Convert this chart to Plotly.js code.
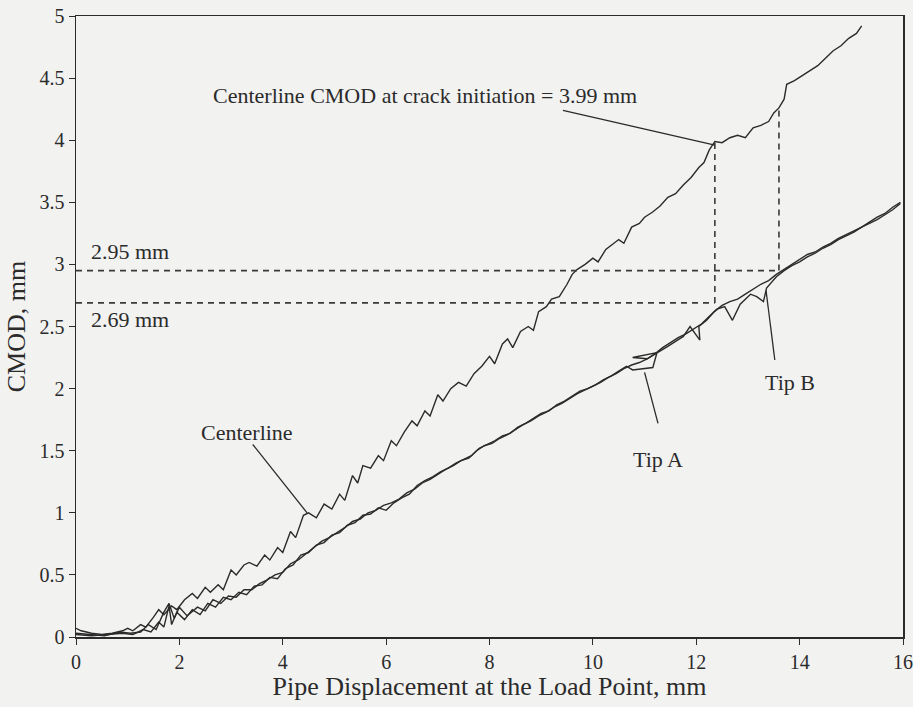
<!DOCTYPE html>
<html>
<head>
<meta charset="utf-8">
<script src="https://cdn.plot.ly/plotly-3.0.1.min.js"></script>
<style>html,body{margin:0;padding:0;background:#f2f2f1;}#chart{width:913px;height:707px;}</style>
</head>
<body>
<div id="chart"></div>
<script>
// Centerline CMOD trace
const centerX = [0.00,0.10,0.30,0.50,0.70,0.90,1.00,1.10,1.25,1.35,1.50,1.60,1.70,1.85,1.95,2.10,2.25,2.35,2.50,2.60,2.75,2.85,3.00,3.10,3.25,3.35,3.50,3.65,3.75,3.90,4.00,4.15,4.25,4.40,4.50,4.65,4.80,4.95,5.10,5.20,5.35,5.45,5.55,5.70,5.85,5.95,6.10,6.20,6.35,6.50,6.60,6.75,6.85,7.00,7.10,7.25,7.40,7.55,7.70,7.85,8.00,8.10,8.25,8.35,8.45,8.60,8.75,8.85,8.95,9.10,9.20,9.35,9.50,9.60,9.70,9.85,10.00,10.10,10.25,10.35,10.50,10.60,10.75,10.90,11.00,11.15,11.30,11.45,11.60,11.75,11.90,12.05,12.15,12.25,12.36,12.50,12.65,12.80,12.95,13.10,13.25,13.40,13.50,13.60,13.70,13.75,13.90,14.05,14.20,14.35,14.50,14.65,14.80,14.95,15.10,15.20];
const centerY = [0.07,0.05,0.03,0.02,0.03,0.05,0.07,0.05,0.10,0.08,0.16,0.22,0.18,0.25,0.22,0.30,0.35,0.31,0.40,0.36,0.42,0.38,0.54,0.50,0.58,0.60,0.57,0.66,0.62,0.72,0.68,0.85,0.80,0.98,1.00,0.96,1.07,1.03,1.15,1.10,1.30,1.24,1.38,1.36,1.46,1.42,1.58,1.54,1.65,1.74,1.70,1.82,1.78,1.95,1.90,2.00,2.05,2.02,2.12,2.18,2.26,2.20,2.36,2.40,2.33,2.46,2.50,2.47,2.62,2.66,2.72,2.74,2.84,2.92,2.96,3.00,3.05,3.02,3.12,3.15,3.20,3.17,3.30,3.33,3.38,3.42,3.47,3.54,3.57,3.64,3.70,3.78,3.82,3.92,3.99,3.98,4.02,4.04,4.02,4.10,4.12,4.15,4.22,4.26,4.33,4.45,4.48,4.52,4.56,4.60,4.66,4.72,4.76,4.82,4.86,4.92];

// Tip A CMOD trace
const tipAX = [0.00,0.30,0.60,0.90,1.10,1.30,1.45,1.60,1.70,1.80,1.85,1.95,2.10,2.25,2.40,2.55,2.70,2.85,3.00,3.15,3.30,3.45,3.60,3.75,3.90,4.05,4.20,4.35,4.50,4.65,4.80,4.95,5.10,5.25,5.40,5.55,5.70,5.85,6.00,6.15,6.30,6.45,6.60,6.75,6.90,7.05,7.20,7.35,7.50,7.65,7.80,7.95,8.10,8.25,8.40,8.55,8.70,8.85,9.00,9.15,9.30,9.45,9.60,9.75,9.90,10.05,10.20,10.35,10.50,10.65,10.77,11.16,11.24,10.77,11.05,11.30,11.45,11.60,11.75,11.88,12.07,12.05,12.20,12.35,12.50,12.65,12.80,12.95,13.10,13.25,13.40,13.55,13.70,13.85,14.00,14.15,14.30,14.45,14.60,14.75,14.90,15.05,15.20,15.35,15.50,15.65,15.80,15.95];
const tipAY = [0.02,0.01,0.02,0.03,0.02,0.06,0.04,0.12,0.08,0.25,0.10,0.20,0.14,0.22,0.18,0.27,0.24,0.32,0.30,0.36,0.34,0.41,0.42,0.48,0.47,0.55,0.58,0.66,0.68,0.74,0.76,0.82,0.84,0.90,0.92,0.98,0.99,1.04,1.02,1.08,1.12,1.15,1.22,1.26,1.29,1.33,1.36,1.40,1.43,1.46,1.52,1.55,1.58,1.62,1.64,1.69,1.72,1.76,1.80,1.82,1.87,1.90,1.94,1.98,2.00,2.03,2.07,2.10,2.14,2.18,2.15,2.17,2.29,2.25,2.24,2.30,2.34,2.38,2.42,2.50,2.39,2.50,2.55,2.62,2.67,2.70,2.72,2.76,2.80,2.84,2.87,2.92,2.96,3.00,3.04,3.08,3.10,3.14,3.17,3.21,3.24,3.27,3.30,3.34,3.38,3.41,3.46,3.50];

// Tip B CMOD trace
const tipBX = [0.00,0.25,0.55,0.85,1.05,1.25,1.40,1.55,1.70,1.80,1.90,2.00,2.15,2.35,2.50,2.65,2.80,2.95,3.10,3.25,3.40,3.55,3.70,3.85,4.00,4.15,4.30,4.45,4.60,4.75,4.90,5.05,5.20,5.35,5.50,5.65,5.80,5.95,6.10,6.25,6.40,6.55,6.70,6.85,7.00,7.15,7.30,7.45,7.60,7.75,7.90,8.05,8.20,8.35,8.50,8.65,8.80,8.95,9.10,9.25,9.40,9.55,9.70,9.85,10.00,10.15,10.30,10.45,10.60,10.75,10.90,11.05,11.20,11.35,11.50,11.65,11.80,11.95,12.10,12.25,12.40,12.55,12.70,12.85,12.95,13.05,13.17,13.30,13.36,13.55,13.70,13.85,14.00,14.15,14.30,14.45,14.60,14.75,14.90,15.05,15.20,15.35,15.50,15.65,15.80,15.95];
const tipBY = [0.03,0.02,0.01,0.04,0.03,0.04,0.10,0.06,0.20,0.27,0.15,0.24,0.17,0.24,0.21,0.30,0.27,0.33,0.32,0.38,0.38,0.43,0.46,0.50,0.52,0.59,0.62,0.67,0.72,0.77,0.80,0.84,0.88,0.93,0.95,1.00,1.02,1.06,1.08,1.11,1.16,1.19,1.24,1.27,1.31,1.35,1.38,1.42,1.44,1.50,1.54,1.56,1.60,1.63,1.67,1.71,1.74,1.78,1.81,1.85,1.88,1.92,1.96,1.99,2.02,2.05,2.09,2.12,2.16,2.19,2.21,2.24,2.28,2.33,2.37,2.41,2.44,2.48,2.52,2.58,2.64,2.66,2.55,2.68,2.72,2.76,2.74,2.70,2.81,2.90,2.95,2.99,3.02,3.06,3.09,3.13,3.16,3.20,3.23,3.26,3.30,3.33,3.36,3.40,3.44,3.49];

// Reference values marked on the chart
const initDispCenter = 12.36;   // displacement at crack initiation (centerline)
const initCmodCenter = 3.99;    // centerline CMOD at initiation
const initCmodTipA = 2.69;      // tip CMOD at that displacement
const initDispTipB = 13.6;      // displacement for second marker
const initCmodTipB = 2.95;      // tip CMOD at second marker
const centerAtTipB = 4.26;      // centerline CMOD at second marker

const xTicks = [0,2,4,6,8,10,12,14,16];
const yTicks = [0,0.5,1,1.5,2,2.5,3,3.5,4,4.5,5];
const yTickText = ['0','0.5','1','1.5','2','2.5','3','3.5','4','4.5','5'];

const ink = '#2b2b2b';
const lineStyle = {color: ink, width: 1.4};
const dashStyle = {color: '#3a3a3a', width: 1.6, dash: '6px,5px'};

const traces = [
  {x: centerX, y: centerY, mode: 'lines', line: lineStyle, name: 'Centerline'},
  {x: tipAX, y: tipAY, mode: 'lines', line: lineStyle, name: 'Tip A'},
  {x: tipBX, y: tipBY, mode: 'lines', line: lineStyle, name: 'Tip B'},
  {x: [0, initDispTipB], y: [initCmodTipB, initCmodTipB], mode: 'lines', line: dashStyle},
  {x: [0, initDispCenter], y: [initCmodTipA, initCmodTipA], mode: 'lines', line: dashStyle},
  {x: [initDispCenter, initDispCenter], y: [initCmodTipA, initCmodCenter], mode: 'lines', line: dashStyle},
  {x: [initDispTipB, initDispTipB], y: [initCmodTipB, centerAtTipB], mode: 'lines', line: dashStyle}
];

const fam = '"Liberation Serif", "Times New Roman", serif';
const tickFont = {family: fam, size: 20, color: ink};
const noteFont = {family: fam, size: 22, color: ink};
const titleFont = {family: fam, size: 26, color: ink};

function leader(x0, y0, x1, y1) {
  return {type: 'line', xref: 'x', yref: 'y', x0: x0, y0: y0, x1: x1, y1: y1, line: {color: ink, width: 1.3}};
}

const layout = {
  width: 913, height: 707,
  paper_bgcolor: '#f2f2f1', plot_bgcolor: '#f2f2f1',
  margin: {l: 76, r: 10, t: 16, b: 70},
  showlegend: false,
  font: tickFont,
  xaxis: {
    range: [0, 16], tickvals: xTicks, ticks: 'outside', ticklen: 6, tickcolor: ink,
    showline: true, linecolor: ink, linewidth: 1.5, mirror: true, showgrid: false, zeroline: false,
    tickfont: tickFont,
    title: {text: 'Pipe Displacement at the Load Point, mm', font: titleFont, standoff: 2}
  },
  yaxis: {
    range: [0, 5], tickvals: yTicks, ticktext: yTickText, ticks: 'outside', ticklen: 6, tickcolor: ink,
    showline: true, linecolor: ink, linewidth: 1.5, mirror: true, showgrid: false, zeroline: false,
    tickfont: tickFont,
    title: {text: 'CMOD, mm', font: titleFont, standoff: 6}
  },
  shapes: [
    leader(9.42, 4.24, 12.36, 3.96),
    leader(3.42, 1.55, 4.47, 1.0),
    leader(11.26, 1.72, 11.0, 2.13),
    leader(13.52, 2.23, 13.35, 2.79)
  ],
  annotations: [
    {x: 6.75, y: 4.36, xref: 'x', yref: 'y', text: 'Centerline CMOD at crack initiation = 3.99 mm', showarrow: false, font: noteFont},
    {x: 0.25, y: 3.10, xref: 'x', yref: 'y', xanchor: 'left', text: '2.95 mm', showarrow: false, font: noteFont},
    {x: 0.25, y: 2.56, xref: 'x', yref: 'y', xanchor: 'left', text: '2.69 mm', showarrow: false, font: noteFont},
    {x: 3.31, y: 1.65, xref: 'x', yref: 'y', text: 'Centerline', showarrow: false, font: noteFont},
    {x: 11.26, y: 1.43, xref: 'x', yref: 'y', text: 'Tip A', showarrow: false, font: noteFont},
    {x: 13.81, y: 2.05, xref: 'x', yref: 'y', text: 'Tip B', showarrow: false, font: noteFont}
  ]
};

Plotly.newPlot('chart', traces, layout, {displayModeBar: false, staticPlot: true});
</script>
</body>
</html>
